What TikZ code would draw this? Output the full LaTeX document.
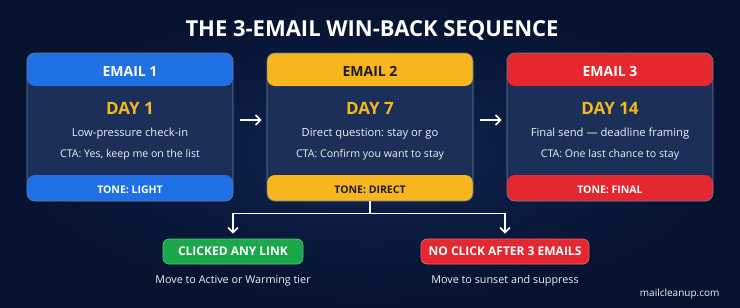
\documentclass[tikz,border=0pt]{standalone}
\usepackage{fontspec}
\setmainfont{Open Sans}
\frenchspacing
\usetikzlibrary{arrows.meta}
\definecolor{bgin}{HTML}{102451}
\definecolor{bgout}{HTML}{06132F}
\definecolor{cardbody}{HTML}{1B2F58}
\definecolor{cardborder}{HTML}{6A7CA3}
\definecolor{hblue}{HTML}{1F6FE5}
\definecolor{hyellow}{HTML}{F7B51E}
\definecolor{hred}{HTML}{E5282F}
\definecolor{hgreen}{HTML}{1BA84A}
\definecolor{dayyellow}{HTML}{F5B81F}
\definecolor{softwhite}{HTML}{EEF1F7}
\definecolor{darktext}{HTML}{1A1D2E}
\tikzset{
  card/.style={draw=cardborder, line width=0.7pt, rounded corners=8pt, fill=cardbody,
    minimum width=206pt, minimum height=148pt, inner sep=0pt,
    path picture={
      \fill[#1] (path picture bounding box.north west) rectangle ([yshift=-33pt]path picture bounding box.north east);
      \fill[#1] (path picture bounding box.south west) rectangle ([yshift=26pt]path picture bounding box.south east);
    }},
  headtxt/.style={anchor=base, font=\bfseries\fontsize{14}{16}\selectfont, text=#1},
  daytxt/.style={anchor=base, font=\bfseries\fontsize{17}{19}\selectfont, text=dayyellow},
  bodytxt/.style={anchor=base, font=\frenchspacing\fontsize{10.6}{12}\selectfont, text=softwhite},
  leadtxt/.style={anchor=base, font=\frenchspacing\fontsize{11.2}{13}\selectfont, text=softwhite},
  tonetxt/.style={anchor=base, font=\bfseries\fontsize{10.5}{12}\selectfont, text=#1},
  pill/.style={draw=#1!70!white, line width=0.6pt, fill=#1, rounded corners=6pt, minimum height=25pt,
    inner sep=0pt, text=white, font=\bfseries\fontsize{12}{14}\selectfont},
  flow/.style={draw=white, line width=1.6pt, -{Straight Barb[length=5pt,width=10pt,line width=1.6pt]}},
}
\begin{document}
\begin{tikzpicture}[x=1pt,y=-1pt]
\useasboundingbox (0,0) rectangle (740,308);
\shade[inner color=bgin, outer color=bgout] (0,0) rectangle (740,308);
\node[anchor=base, font=\bfseries\fontsize{22}{26}\selectfont, text=white] (title) at (372,36) {THE 3-EMAIL WIN-BACK SEQUENCE};

% cards
\node[card=hblue] (b1) at (130,127) {};
\node[card=hyellow] (b2) at (370,127) {};
\node[card=hred] (b3) at (610,127) {};

\foreach \b/\hc/\n/\d/\la/\lb/\t in {
  b1/white/1/DAY 1/Low-pressure check-in/{CTA: Yes, keep me on the list}/TONE: LIGHT,
  b2/darktext/2/DAY 7/Direct question: stay or go/CTA: Confirm you want to stay/TONE: DIRECT,
  b3/white/3/DAY 14/Final send — deadline framing/CTA: One last chance to stay/TONE: FINAL}{
  \node[headtxt=\hc] (\b h) at ([yshift=-24pt]\b.north) {EMAIL \n};
  \node[daytxt] (\b d) at ([yshift=-62pt]\b.north) {\d};
  \node[leadtxt] (\b a) at ([yshift=-84pt]\b.north) {\la};
  \node[bodytxt] (\b c) at ([yshift=-105pt]\b.north) {\lb};
  \node[tonetxt=\hc] (\b t) at ([yshift=8pt]\b.south) {\t};
}

% arrows between cards
\draw[flow] ([xshift=7pt,yshift=7pt]b1.east) -- ([xshift=-5pt,yshift=7pt]b2.west);
\draw[flow] ([xshift=7pt,yshift=7pt]b2.east) -- ([xshift=-5pt,yshift=7pt]b3.west);

% outcome pills
\node[pill=hgreen, minimum width=140pt] (g) at (233,251.5) {CLICKED ANY LINK};
\node[pill=hred, minimum width=168pt] (r) at (505,251.5) {NO CLICK AFTER 3 EMAILS};
\node[leadtxt, font=\fontsize{10.8}{13}\selectfont] (gt) at (233,283.5) {Move to Active or Warming tier};
\node[leadtxt, font=\fontsize{10.8}{13}\selectfont] (rt) at (505,283.5) {Move to sunset and suppress};

\coordinate (split) at ([yshift=-12pt]b2.south);
\draw[draw=white, line width=1.6pt] (b2.south) -- (split);
\draw[flow, shorten >=5pt] (split) -| (g.north);
\draw[flow, shorten >=5pt] (split) -| (r.north);

\node[font=\fontsize{10}{12}\selectfont, text=softwhite, anchor=base east] (brand) at (723,296) {mailcleanup.com};
\end{tikzpicture}
\end{document}
